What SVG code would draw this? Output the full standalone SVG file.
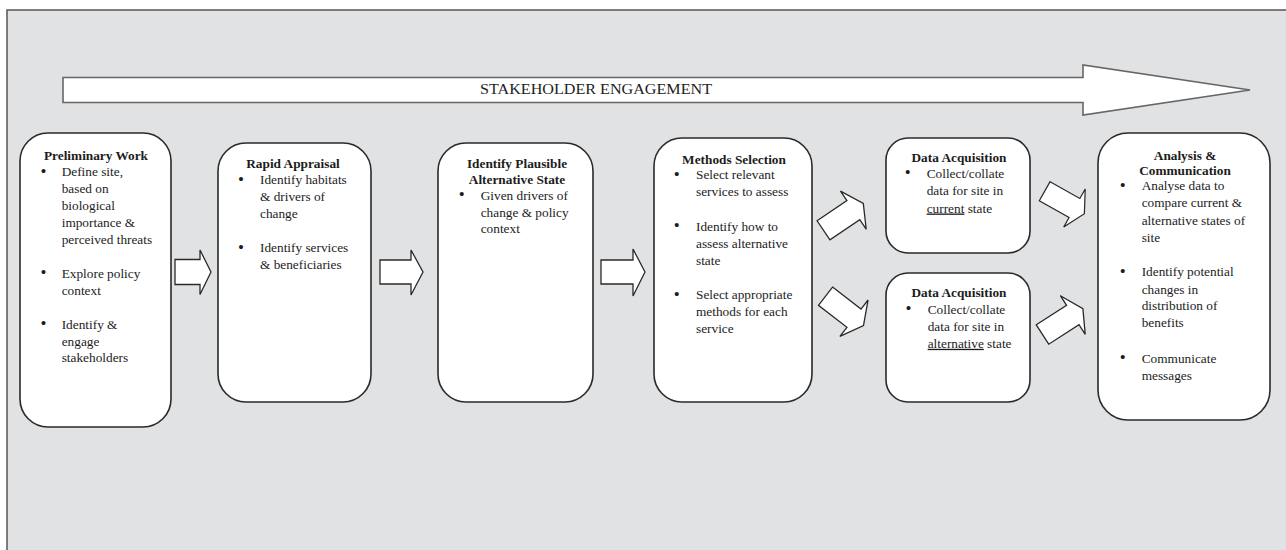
<svg xmlns="http://www.w3.org/2000/svg" width="1286" height="550" viewBox="0 0 1286 550">
<style>
.bg{fill:#e1e2e4;stroke:#555;stroke-width:1.5}
.box{fill:#fff;stroke:#2a2a2a;stroke-width:1.6}
.arr{fill:#fff;stroke:#2a2a2a;stroke-width:1.3;stroke-linejoin:miter}
.banner{fill:#fff;stroke:#666;stroke-width:1.6}
text{font-family:"Liberation Serif","Times New Roman",serif;font-size:13.3px;fill:#1c1c1c}
.t{font-weight:bold;text-anchor:middle}
.u{text-decoration:underline}
.ban{font-size:14px;text-anchor:middle}
.b{font-size:17px}
</style>
<defs>
<polygon id="darr" points="0,-11.5 36,-11.5 36,-23 48,0 36,23 36,11.5 0,11.5"/>
</defs>
<rect class="bg" x="7" y="10" width="1290" height="560"/>
<g id="banner">
<polygon class="banner" points="63,77.5 1083,77.5 1083,65 1250,90 1083,115 1083,102.5 63,102.5"/>
<text class="ban" x="596" y="94" textLength="232" lengthAdjust="spacingAndGlyphs">STAKEHOLDER ENGAGEMENT</text>
</g>
<g id="connectors">
<polygon class="arr" points="175,259.5 200,259.5 200,250 211,272 200,294.5 200,284.5 175,284.5"/>
<polygon class="arr" points="380,260 411,260 411,250 423,272 411,295 411,284 380,284"/>
<polygon class="arr" points="601,260 633,260 633,249 645,272 633,296 633,284 601,284"/>
<use href="#darr" class="arr" transform="translate(823.5,230.3) rotate(-34)"/>
<use href="#darr" class="arr" transform="translate(825.5,296.2) rotate(37.7)"/>
<use href="#darr" class="arr" transform="translate(1044.7,191.2) rotate(29.5) scale(0.95)"/>
<use href="#darr" class="arr" transform="translate(1042.5,334.5) rotate(-32.7)"/>
</g>
<g id="n1">
<rect class="box" x="20" y="133" width="151" height="294" rx="28"/>
<text class="t" x="96" y="159.5">Preliminary Work</text>
<text class="b" x="40.5" y="177">•</text>
<text x="61.7" y="176.4">Define site,</text>
<text x="61.7" y="193.3">based on</text>
<text x="61.7" y="210.2">biological</text>
<text x="61.7" y="227.1">importance &amp;</text>
<text x="61.7" y="244">perceived threats</text>
<text class="b" x="40.5" y="278.4">•</text>
<text x="61.7" y="277.8">Explore policy</text>
<text x="61.7" y="294.7">context</text>
<text class="b" x="40.5" y="329.2">•</text>
<text x="61.7" y="328.6">Identify &amp;</text>
<text x="61.7" y="345.5">engage</text>
<text x="61.7" y="362.4">stakeholders</text>
</g>
<g id="n2">
<rect class="box" x="218" y="143" width="153" height="259" rx="28"/>
<text class="t" x="293" y="167.5">Rapid Appraisal</text>
<text class="b" x="238" y="185">•</text>
<text x="260" y="184.4">Identify habitats</text>
<text x="260" y="201.3">&amp; drivers of</text>
<text x="260" y="218.2">change</text>
<text class="b" x="238" y="252.6">•</text>
<text x="260" y="252">Identify services</text>
<text x="260" y="268.9">&amp; beneficiaries</text>
</g>
<g id="n3">
<rect class="box" x="438" y="143" width="155" height="259" rx="28"/>
<text class="t" x="517" y="167.5">Identify Plausible</text>
<text class="t" x="517" y="183.5">Alternative State</text>
<text class="b" x="458.7" y="200.4">•</text>
<text x="480.7" y="199.8">Given drivers of</text>
<text x="480.7" y="216.6">change &amp; policy</text>
<text x="480.7" y="233.4">context</text>
</g>
<g id="n4">
<rect class="box" x="654" y="138" width="158" height="264" rx="28"/>
<text class="t" x="734" y="163.5">Methods Selection</text>
<text class="b" x="673.7" y="179.6">•</text>
<text x="696" y="179">Select relevant</text>
<text x="696" y="196">services to assess</text>
<text class="b" x="673.7" y="231.1">•</text>
<text x="696" y="230.5">Identify how to</text>
<text x="696" y="247.5">assess alternative</text>
<text x="696" y="264.5">state</text>
<text class="b" x="673.7" y="299.6">•</text>
<text x="696" y="299">Select appropriate</text>
<text x="696" y="316">methods for each</text>
<text x="696" y="333">service</text>
</g>
<g id="n5">
<rect class="box" x="886" y="138" width="144" height="115" rx="22"/>
<text class="t" x="959" y="161.8">Data Acquisition</text>
<text class="b" x="904.7" y="178.4">•</text>
<text x="926.7" y="177.8">Collect/collate</text>
<text x="926.7" y="195">data for site in</text>
<text x="926.7" y="212.5"><tspan class="u">current</tspan> state</text>
</g>
<g id="n6">
<rect class="box" x="886" y="273" width="144" height="129" rx="22"/>
<text class="t" x="959" y="297.2">Data Acquisition</text>
<text class="b" x="905.4" y="314.1">•</text>
<text x="927.7" y="313.5">Collect/collate</text>
<text x="927.7" y="330.5">data for site in</text>
<text x="927.7" y="347.8"><tspan class="u">alternative</tspan> state</text>
</g>
<g id="n7">
<rect class="box" x="1098" y="133" width="172" height="287" rx="30"/>
<text class="t" x="1185" y="160">Analysis &amp;</text>
<text class="t" x="1185" y="174.5">Communication</text>
<text class="b" x="1119.7" y="190.8">•</text>
<text x="1141.7" y="190.2">Analyse data to</text>
<text x="1141.7" y="207.2">compare current &amp;</text>
<text x="1141.7" y="225">alternative states of</text>
<text x="1141.7" y="241.8">site</text>
<text class="b" x="1119.7" y="276.8">•</text>
<text x="1141.7" y="276.2">Identify potential</text>
<text x="1141.7" y="293.5">changes in</text>
<text x="1141.7" y="310.2">distribution of</text>
<text x="1141.7" y="327.2">benefits</text>
<text class="b" x="1119.7" y="363.1">•</text>
<text x="1141.7" y="362.5">Communicate</text>
<text x="1141.7" y="379.5">messages</text>
</g>
</svg>
